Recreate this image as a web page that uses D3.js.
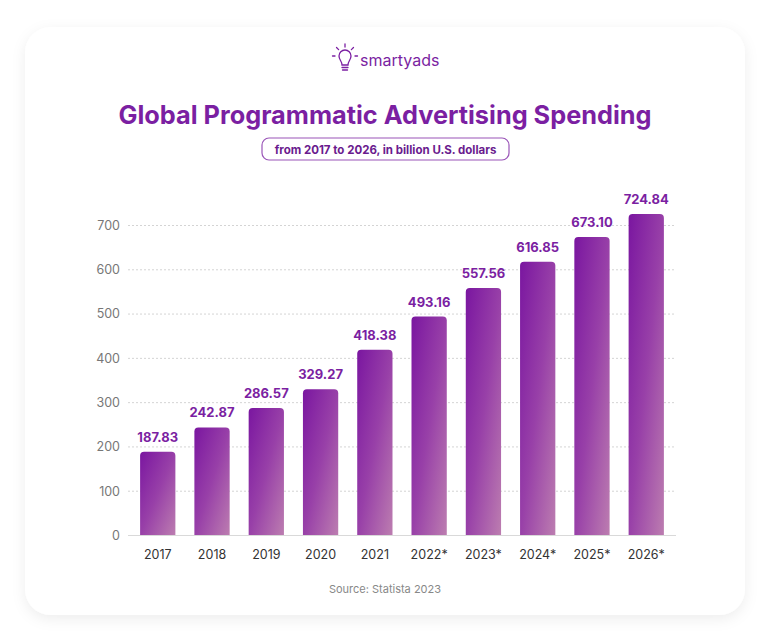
<!DOCTYPE html>
<html>
<head>
<meta charset="utf-8">
<script src="https://cdn.jsdelivr.net/npm/d3@7"></script>
<style>
  html, body { margin: 0; padding: 0; background: #ffffff; }
  svg { display: block; }
</style>
</head>
<body>
<svg id="chart" width="770" height="643"></svg>
<script>
const years = ["2017","2018","2019","2020","2021","2022*","2023*","2024*","2025*","2026*"];
const spending = [187.83, 242.87, 286.57, 329.27, 418.38, 493.16, 557.56, 616.85, 673.10, 724.84];
const yTicks = [0, 100, 200, 300, 400, 500, 600, 700];
const titleText = "Global Programmatic Advertising Spending";
const subtitleText = "from 2017 to 2026, in billion U.S. dollars";
const sourceText = "Source: Statista 2023";
const brandText = "smartyads";

const svg = d3.select("#chart");
const purple = "#7b1fa2";
const font = "Inter, 'Open Sans', sans-serif";

const defs = svg.append("defs");
const f = defs.append("filter").attr("id", "shadow").attr("x", "-10%").attr("y", "-10%").attr("width", "120%").attr("height", "120%");
f.append("feDropShadow").attr("dx", 0).attr("dy", 4).attr("stdDeviation", 7)
  .attr("flood-color", "#000").attr("flood-opacity", 0.07);

const grad = defs.append("linearGradient").attr("id", "barGrad")
  .attr("x1", "0").attr("y1", "0").attr("x2", "1").attr("y2", "1");
grad.append("stop").attr("offset", "0%").attr("stop-color", "#7a16a0");
grad.append("stop").attr("offset", "50%").attr("stop-color", "#9840a8");
grad.append("stop").attr("offset", "100%").attr("stop-color", "#bc7db0");

// card
svg.append("rect").attr("x", 25).attr("y", 27).attr("width", 720).attr("height", 588)
  .attr("rx", 26).attr("fill", "#fff").attr("filter", "url(#shadow)");

// logo
const logo = svg.append("g").attr("transform", "translate(345,58)")
  .attr("stroke", purple).attr("fill", "none").attr("stroke-width", 1.3).attr("stroke-linecap", "round");
logo.append("path").attr("d", "M-3,7 C-3,3 -6,2 -6,-2 A6,6 0 1 1 6,-2 C6,2 3,3 3,7 Z");
logo.append("line").attr("x1", -3).attr("x2", 3).attr("y1", 9.5).attr("y2", 9.5);
logo.append("line").attr("x1", -2.5).attr("x2", 2.5).attr("y1", 12).attr("y2", 12);
[[-90, 9, 12], [-45, 9, 12], [-135, 9, 12], [0, 10, 12.5], [180, 10, 12.5]].forEach(([a, r1, r2]) => {
  const t = a * Math.PI / 180;
  logo.append("line").attr("x1", r1 * Math.cos(t)).attr("y1", -2 + r1 * Math.sin(t))
    .attr("x2", r2 * Math.cos(t)).attr("y2", -2 + r2 * Math.sin(t));
});
svg.append("text").attr("x", 360).attr("y", 66).attr("font-family", font).attr("font-size", 16)
  .attr("fill", purple).text(brandText);

// title
svg.append("text").attr("x", 385).attr("y", 124).attr("text-anchor", "middle")
  .attr("font-family", font).attr("font-weight", 700).attr("font-size", 25.3)
  .attr("fill", purple).text(titleText);

// subtitle pill
svg.append("rect").attr("x", 262).attr("y", 138).attr("width", 247).attr("height", 22).attr("rx", 7)
  .attr("fill", "#fff").attr("stroke", "#9a55b8").attr("stroke-width", 1.2);
svg.append("text").attr("x", 385.5).attr("y", 153.5).attr("text-anchor", "middle")
  .attr("font-family", font).attr("font-weight", 700).attr("font-size", 11.5)
  .attr("fill", "#6a1b8e").text(subtitleText);

// scales
const x = d3.scaleBand().domain(years).range([128, 676]).paddingInner(0.35).paddingOuter(0.223);
const y = d3.scaleLinear().domain([0, 700]).range([535, 225]);

// grid
const grid = svg.append("g").attr("transform", "translate(128,0)")
  .call(d3.axisLeft(y).tickValues(yTicks.filter(v => v > 0)).tickSize(-548).tickFormat(""));
grid.select(".domain").remove();
grid.selectAll("line").attr("stroke", "#d4d4d4").attr("stroke-dasharray", "2,2").attr("stroke-width", 1);

// y tick labels
const yAxis = svg.append("g").attr("transform", "translate(120,0)")
  .call(d3.axisLeft(y).tickValues(yTicks).tickSize(0).tickPadding(0));
yAxis.select(".domain").remove();
yAxis.selectAll("text").attr("font-family", font).attr("font-size", 12.5).attr("fill", "#777")
  .attr("dy", "0.35em");

// bars
const bw = x.bandwidth();
const r = 4;
svg.append("g").selectAll("path").data(years).join("path")
  .attr("d", (d, i) => {
    const x0 = x(d), y0 = y(spending[i]), yb = y(0);
    return `M${x0},${yb} V${y0 + r} Q${x0},${y0} ${x0 + r},${y0} H${x0 + bw - r} Q${x0 + bw},${y0} ${x0 + bw},${y0 + r} V${yb} Z`;
  })
  .attr("fill", "url(#barGrad)");

// value labels
svg.append("g").selectAll("text").data(years).join("text")
  .attr("x", d => x(d) + bw / 2)
  .attr("y", (d, i) => y(spending[i]) - 10)
  .attr("text-anchor", "middle")
  .attr("font-family", font).attr("font-weight", 700).attr("font-size", 13)
  .attr("fill", purple)
  .text((d, i) => spending[i].toFixed(2));

// x axis
const xAxis = svg.append("g").attr("transform", "translate(0,535)")
  .call(d3.axisBottom(x).tickSize(0).tickPadding(15));
xAxis.select(".domain").attr("stroke", "#d9d9d9").attr("d", "M128,0.5H676");
xAxis.selectAll("text").attr("font-family", font).attr("font-size", 12.5).attr("fill", "#333");

// source
svg.append("text").attr("x", 385).attr("y", 593).attr("text-anchor", "middle")
  .attr("font-family", font).attr("font-size", 11).attr("fill", "#888").text(sourceText);
</script>
</body>
</html>
